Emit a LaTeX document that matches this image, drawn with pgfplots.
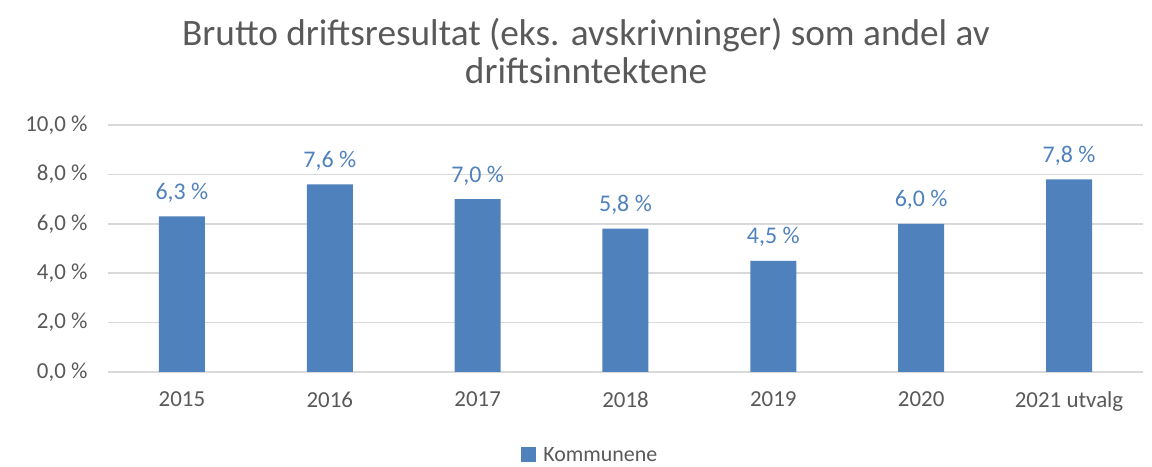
\documentclass[border=0pt]{standalone}
\usepackage{pgfplots}
\pgfplotsset{compat=1.18}
\usepackage{fontspec}
\setmainfont{Carlito}
\definecolor{barblue}{HTML}{4F81BD}
\definecolor{txtgray}{HTML}{595959}
\definecolor{gridgray}{HTML}{D9D9D9}
\begin{document}
\begin{tikzpicture}[x=1bp,y=1bp]
\useasboundingbox (-108,-95) rectangle (1044,372);
\begin{axis}[
  at={(0,0)}, anchor=south west,
  scale only axis, width=1035bp, height=247bp,
  ymin=0, ymax=10, ytick={0,2,4,6,8,10},
  yticklabels={{0,0 \%},{2,0 \%},{4,0 \%},{6,0 \%},{8,0 \%},{10,0 \%}},
  xmin=-0.5, xmax=6.5, xtick=data,
  xticklabels={2015,2016,2017,2018,2019,2020,2021 utvalg},
  ymajorgrids, grid style={gridgray, line width=1.5bp},
  axis line style={draw=none},
  axis x line*=bottom,
  x axis line style={draw=gridgray, line width=1.5bp},
  tick style={draw=none},
  ticklabel style={font=\fontsize{23}{27}\selectfont, text=txtgray},
  yticklabel style={xshift=-17bp},
  xticklabel style={yshift=-12bp},
  ybar, bar width=46bp,
  nodes near coords={\pgfmathprintnumber[fixed,zerofill,precision=1,use comma,assume math mode=true]{\pgfplotspointmeta}~\%},
  every node near coord/.append style={font=\fontsize{24}{28}\selectfont, text=barblue, anchor=base, yshift=17bp},
  legend style={at={(0.466,-0.336)}, anchor=center, draw=none, font=\fontsize{22}{26}\selectfont, text=txtgray, inner sep=0pt},
  legend image code/.code={\fill[barblue] (0bp,-7.5bp) rectangle (15bp,7.5bp); \path (20bp,0bp);},
]
\addplot[fill=barblue, draw=none] coordinates {(0,6.3) (1,7.6) (2,7.0) (3,5.8) (4,4.5) (5,6.0) (6,7.8)};
\addlegendentry{Kommunene}
\end{axis}
\node[align=center, text=txtgray, font=\fontsize{37.4}{39}\selectfont, anchor=center] at (478,321) {Brutto driftsresultat (eks. avskrivninger) som andel av\\driftsinntektene};
\end{tikzpicture}
\end{document}
